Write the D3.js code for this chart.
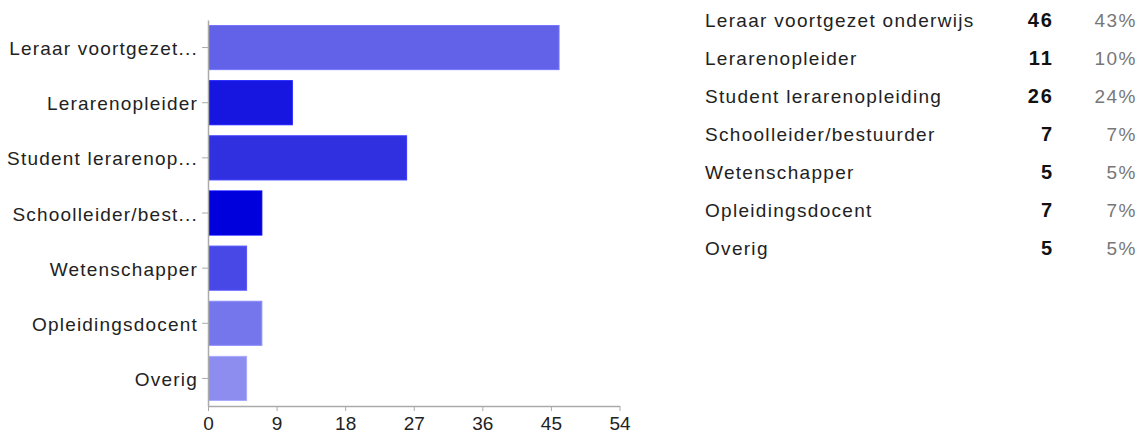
<!DOCTYPE html>
<html>
<head>
<meta charset="utf-8">
<script src="https://cdn.jsdelivr.net/npm/d3@7"></script>
<style>
  html, body { margin: 0; padding: 0; background: #fff; }
  svg { display: block; font-family: "Liberation Sans", Arial, sans-serif; }
</style>
</head>
<body>
<svg id="chart" width="1138" height="434"></svg>
<script>
// ---- data ----
const categories = [
  "Leraar voortgezet onderwijs",
  "Lerarenopleider",
  "Student lerarenopleiding",
  "Schoolleider/bestuurder",
  "Wetenschapper",
  "Opleidingsdocent",
  "Overig"
];
const axisLabels = [
  "Leraar voortgezet...",
  "Lerarenopleider",
  "Student lerarenop...",
  "Schoolleider/best...",
  "Wetenschapper",
  "Opleidingsdocent",
  "Overig"
];
const counts = [46, 11, 26, 7, 5, 7, 5];
const percents = ["43%", "10%", "24%", "7%", "5%", "7%", "5%"];
const xTicks = [0, 9, 18, 27, 36, 45, 54];
const barColors = ["#6262e8", "#1616e0", "#3030e0", "#0000dd", "#4848e6", "#7676ec", "#8d8df0"];

// ---- layout ----
const svg = d3.select("#chart");
const plot = { left: 208, right: 619.5, top: 20, bottom: 406 };

const x = d3.scaleLinear().domain([0, 54]).range([plot.left, plot.right]);
const y = d3.scaleBand().domain(categories).range([plot.top, plot.bottom])
  .paddingInner(0.2).paddingOuter(0.1);

// bars
svg.append("g").selectAll("rect")
  .data(categories)
  .join("rect")
  .attr("x", x(0) + 0.5)
  .attr("y", d => y(d))
  .attr("width", (d, i) => x(counts[i]) - x(0))
  .attr("height", y.bandwidth())
  .attr("fill", (d, i) => barColors[i])
  .attr("stroke", (d, i) => d3.color(barColors[i]).brighter(0.5))
  .attr("stroke-width", 1);

// x axis
const xAxis = d3.axisBottom(x).tickValues(xTicks).tickSize(5).tickSizeOuter(0).tickPadding(6);
const gx = svg.append("g").attr("transform", `translate(0,${plot.bottom})`).call(xAxis);
gx.select(".domain").attr("stroke", "#aaa").attr("stroke-width", 1.5);
gx.selectAll(".tick line").attr("stroke", "#aaa");
gx.selectAll(".tick text").attr("font-size", 19).attr("fill", "#222")
  .attr("font-family", "Liberation Sans, Arial, sans-serif");

// y axis
const yAxis = d3.axisLeft(y).tickSize(6).tickSizeOuter(0).tickPadding(4)
  .tickFormat((d, i) => axisLabels[i]);
const gy = svg.append("g").attr("transform", `translate(${plot.left},0)`).call(yAxis);
gy.select(".domain").attr("stroke", "#aaa").attr("stroke-width", 1.5);
gy.selectAll(".tick line").attr("stroke", "#aaa");
gy.selectAll(".tick text").attr("font-size", 19).attr("fill", "#222")
  .attr("letter-spacing", "1.2px").attr("dy", "0.4em")
  .attr("font-family", "Liberation Sans, Arial, sans-serif");

// ---- table ----
const rowY = d3.scaleLinear().domain([0, categories.length - 1]).range([27, 255]);
const table = svg.append("g").attr("font-size", 19);
table.selectAll("text.lbl").data(categories).join("text")
  .attr("class", "lbl")
  .attr("x", 705).attr("y", (d, i) => rowY(i))
  .attr("fill", "#222").attr("letter-spacing", "1.3px")
  .text(d => d);
table.selectAll("text.cnt").data(counts).join("text")
  .attr("class", "cnt")
  .attr("x", 1054).attr("y", (d, i) => rowY(i))
  .attr("text-anchor", "end").attr("font-weight", "bold")
  .attr("font-size", 20)
  .attr("fill", "#111").attr("letter-spacing", "2px")
  .text(d => d);
table.selectAll("text.pct").data(percents).join("text")
  .attr("class", "pct")
  .attr("x", 1137).attr("y", (d, i) => rowY(i))
  .attr("text-anchor", "end")
  .attr("fill", "#777").attr("letter-spacing", "1.5px")
  .text(d => d);
</script>
</body>
</html>
